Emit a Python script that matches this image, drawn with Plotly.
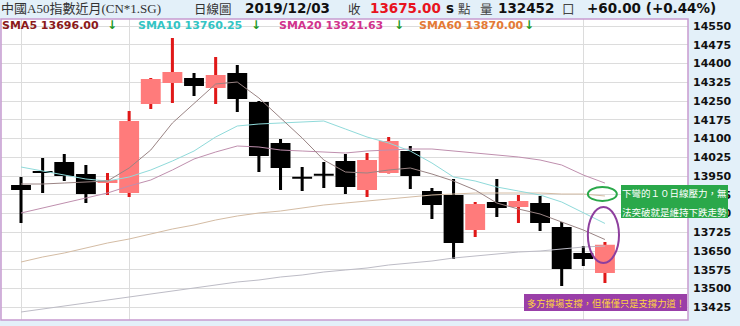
import plotly.graph_objects as go

# ---------------- data ----------------
dates = ["2019/10/25", "2019/10/28", "2019/10/29", "2019/10/30", "2019/10/31",
         "2019/11/01", "2019/11/04", "2019/11/05", "2019/11/06", "2019/11/07",
         "2019/11/08", "2019/11/11", "2019/11/12", "2019/11/13", "2019/11/14",
         "2019/11/15", "2019/11/18", "2019/11/19", "2019/11/20", "2019/11/21",
         "2019/11/22", "2019/11/25", "2019/11/26", "2019/11/27", "2019/11/28",
         "2019/11/29", "2019/12/02", "2019/12/03"]
opens = [13914, 13970, 14006, 13958, 13922, 13882, 14238, 14322, 14342, 14302,
         14362, 14246, 14082, 13946, 13958, 14010, 13894, 13962, 14050, 13890,
         13874, 13734, 13846, 13826, 13842, 13746, 13642, 13562]
highs = [13946, 14022, 14038, 13994, 13962, 14210, 14342, 14502, 14362, 14426,
         14394, 14250, 14098, 13986, 14006, 14038, 14042, 14106, 14070, 13902,
         13938, 13846, 13938, 13874, 13870, 13766, 13670, 13686]
lows = [13762, 13882, 13930, 13842, 13874, 13866, 14218, 14242, 14270, 14238,
        14206, 13966, 13894, 13890, 13902, 13878, 13866, 13960, 13898, 13778,
        13618, 13706, 13786, 13762, 13730, 13510, 13590, 13522]
closes = [13894, 13962, 13950, 13878, 13934, 14170, 14338, 14366, 14310, 14354,
          14258, 14030, 13982, 13940, 13952, 13906, 14014, 14090, 13950, 13834,
          13682, 13838, 13822, 13850, 13762, 13578, 13618, 13675]

sma5 = [13918, 13918, 13922, 13926, 13930, 13982, 14054, 14162, 14242, 14318,
        14326, 14262, 14182, 14102, 14014, 13966, 13962, 13974, 13982, 13958,
        13930, 13894, 13842, 13818, 13798, 13766, 13734, 13696]
sma10 = [13986, 13970, 13954, 13938, 13930, 13946, 13974, 14010, 14050, 14106,
         14150, 14158, 14162, 14166, 14170, 14138, 14106, 14082, 14050, 14002,
         13946, 13930, 13906, 13890, 13874, 13846, 13802, 13760.25]
sma20 = [13802, 13822, 13842, 13862, 13882, 13910, 13934, 13974, 14018, 14046,
         14070, 14066, 14054, 14050, 14046, 14042, 14050, 14054, 14058, 14058,
         14050, 14042, 14034, 14026, 14014, 13994, 13954, 13921.63]
sma60 = [13606, 13626, 13642, 13662, 13682, 13698, 13718, 13738, 13754, 13774,
         13790, 13802, 13810, 13822, 13834, 13842, 13850, 13858, 13866, 13874,
         13878, 13882, 13882, 13882, 13882, 13878, 13878, 13870]
long_ma = [13406, 13418, 13430, 13442, 13454, 13466, 13478, 13490, 13502, 13514,
           13526, 13534, 13546, 13554, 13566, 13574, 13582, 13594, 13602, 13610,
           13622, 13630, 13638, 13646, 13650, 13658, 13666, 13670]

ytick_vals = [13425, 13500, 13575, 13650, 13725, 13800, 13875, 13950, 14025,
              14100, 14175, 14250, 14325, 14400, 14475, 14550]
month_marks = ["2019/10/25", "2019/11/01", "2019/12/02"]

# ---------------- styling ----------------
UP_BODY = "#ff7b7b"
UP_WICK = "#e01818"
DN = "#000000"

up = [c >= o for o, c in zip(opens, closes)]
wick_col = [UP_WICK if u else DN for u in up]
body_col = [UP_BODY if u else DN for u in up]
MIN_BODY = 8
body_h = [max(abs(c - o), MIN_BODY) for o, c in zip(opens, closes)]
body_base = [(o + c) / 2 - h / 2 for o, c, h in zip(opens, closes, body_h)]
wick_h = [h - l for h, l in zip(highs, lows)]

fig = go.Figure()
fig.add_trace(go.Bar(x=dates, y=wick_h, base=lows, width=0.14,
                     marker=dict(color=wick_col, line_width=0), hoverinfo="skip"))
fig.add_trace(go.Bar(x=dates, y=body_h, base=body_base, width=0.92,
                     marker=dict(color=body_col, line_width=0), hoverinfo="skip"))

for vals, col in [(long_ma, "#bdbcc6"), (sma60, "#d4bca4"), (sma20, "#bf8fae"),
                  (sma10, "#8fdada"), (sma5, "#9a8484")]:
    fig.add_trace(go.Scatter(x=dates, y=vals, mode="lines",
                             line=dict(color=col, width=1), hoverinfo="skip"))

L, R, T, B = 1, 52, 19, 6
W, H = 740, 326
PW = W - L - R
PH = H - T - B


def px(xp):
    return (xp - L) / PW


def py(yp):
    return (H - B - yp) / PH


annots = []


def txt(xp, yp, text, size, color, bold=False, family="DejaVu Sans", anchor="left"):
    annots.append(dict(x=px(xp), y=py(yp), xref="paper", yref="paper", text=text,
                       showarrow=False, xanchor=anchor, yanchor="middle",
                       font=dict(size=size, color=color, family=family,
                                 weight="bold" if bold else "normal"),
                       borderpad=0))


CJK = "Noto Sans CJK TC"
# header row 1
txt(0, 8, "中國A50指數近月(CN*1.SG)", 13, "#333333", family="Liberation Serif, " + CJK)
txt(193, 8, "日線圖", 12.5, "#333333", family=CJK)
txt(244, 8, "2019/12/03", 13.5, "#111111", bold=True)
txt(347, 8, "收", 12.5, "#333333", family=CJK)
txt(369, 8, "13675.00", 13.5, "#e8141e", bold=True)
txt(445, 8, "s", 13.5, "#111111", bold=True)
txt(457, 8, "點", 12.5, "#444444", family=CJK)
txt(479, 8, "量", 12.5, "#444444", family=CJK)
txt(497, 8, "132452", 13.5, "#111111", bold=True)
txt(561, 8, "口", 12.5, "#444444", family=CJK)
txt(586, 8, "+60.00 (+0.44%)", 13.5, "#111111", bold=True)

# header row 2 (SMA values)
ARROW = "#1e9a28"
txt(1, 25.5, "SMA5 13696.00", 11, "#8b1a1a", bold=True)
txt(106, 25.5, "↓", 12, ARROW, bold=True)
txt(137, 25.5, "SMA10 13760.25", 11, "#33c4c4", bold=True)
txt(250, 25.5, "↓", 12, ARROW, bold=True)
txt(278, 25.5, "SMA20 13921.63", 11, "#d1338c", bold=True)
txt(393, 25.5, "↓", 12, ARROW, bold=True)
txt(418, 25.5, "SMA60 13870.00", 11, "#e47a35", bold=True)
txt(523, 25.5, "↓", 12, ARROW, bold=True)

# callout boxes
GREEN = "#2aa84a"
PURPLE = "#9a3fa8"
shapes = [
    dict(type="rect", xref="paper", yref="paper", x0=0, x1=1, y0=0, y1=1,
         line=dict(color="#c79bd0", width=1.5), layer="above"),
    dict(type="rect", xref="paper", yref="paper", x0=px(621), x1=px(728),
         y0=py(218), y1=py(185), fillcolor=GREEN, line_width=0, layer="above"),
    dict(type="rect", xref="paper", yref="paper", x0=px(524), x1=px(687),
         y0=py(311), y1=py(294), fillcolor=PURPLE, line_width=0, layer="above"),
    dict(type="circle", xref="x", yref="y", x0=26.21, x1=27.55, y0=13850, y1=13906,
         line=dict(color=GREEN, width=2), layer="above"),
    dict(type="circle", xref="x", yref="y", x0=26.21, x1=27.65, y0=13602, y1=13826,
         line=dict(color="#8e3f9e", width=2), layer="above"),
]
txt(674.5, 193, "下彎的１０日線壓力，無", 9.5, "#ffffff", family=CJK, anchor="center")
txt(674.5, 212, "法突破就是維持下跌走勢", 9.5, "#ffffff", family=CJK, anchor="center")
txt(605.5, 302.5, "多方撐場支撐，但僅僅只是支撐力道！", 9.3, "#ffd23f", family=CJK, anchor="center")

GRID = "#dcdcdc"
fig.update_layout(
    width=W, height=H, margin=dict(l=L, r=R, t=T, b=B, pad=0),
    paper_bgcolor="#e3f0f9", plot_bgcolor="#ffffff",
    barmode="overlay", showlegend=False,
    annotations=annots, shapes=shapes,
    xaxis=dict(type="category", categoryorder="array", categoryarray=dates,
               range=[-0.925, 30.84], showgrid=True, gridcolor=GRID, gridwidth=1,
               tickvals=month_marks, showticklabels=False, zeroline=False,
               showline=False, ticks=""),
    yaxis=dict(side="right", range=[13374, 14578], tickvals=ytick_vals,
               ticktext=[str(v) for v in ytick_vals], showgrid=True,
               gridcolor=GRID, gridwidth=1, zeroline=False, showline=False,
               ticks="", ticklabelstandoff=4,
               tickfont=dict(family="DejaVu Sans", size=11, color="#111111",
                             weight="bold")),
)

fig.write_html("out.html")
